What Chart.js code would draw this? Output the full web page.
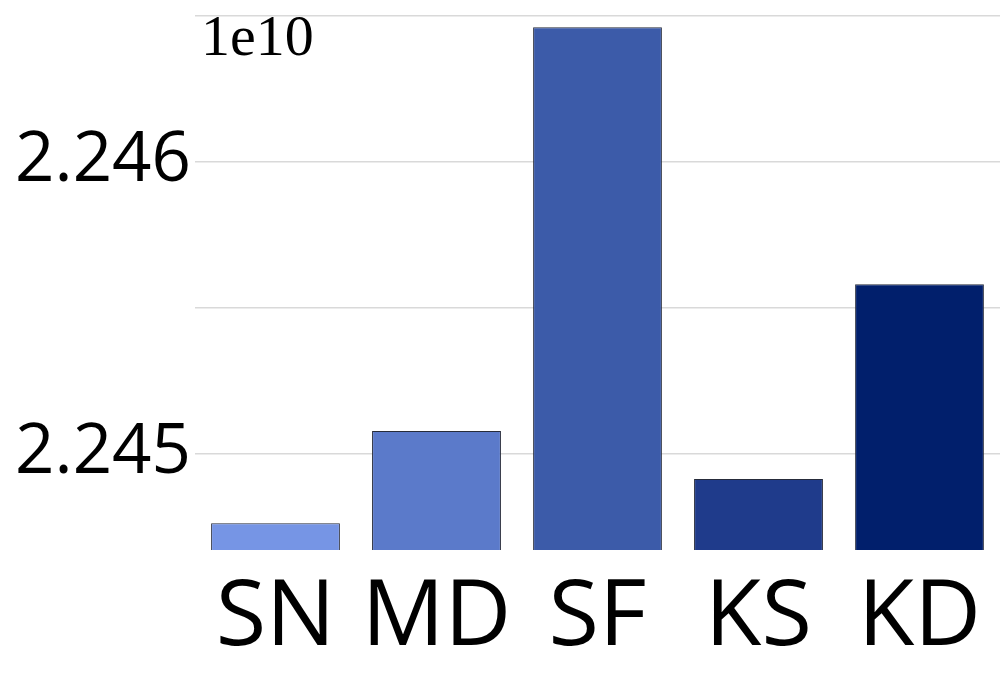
<!DOCTYPE html>
<html>
<head>
<meta charset="utf-8">
<script src="https://cdn.jsdelivr.net/npm/chart.js@4/dist/chart.umd.min.js"></script>
<style>
html,body{margin:0;padding:0;background:#fff;}
#wrap{width:1000px;height:700px;}
</style>
</head>
<body>
<div id="wrap"><canvas id="c" width="1000" height="700"></canvas></div>
<script>
const categories = ["SN", "MD", "SF", "KS", "KD"];
const values = [22447600000, 22450765000, 22464610000, 22449120000, 22455800000];
const barColors = ["#7695e5", "#5b7aca", "#3c5ba9", "#1f3b8b", "#011f6c"];
const gridValues = [22450000000, 22455000000, 22460000000, 22465000000];
const labeledTicks = [22450000000, 22460000000];
const tickLabels = ["2.245", "2.246"];
const yMin = 22446684000;
const yMax = 22465000000;
const exponentText = "1e10";

const exponentPlugin = {
  id: 'exponent',
  afterDraw(chart) {
    const ctx = chart.ctx;
    ctx.save();
    ctx.font = "58px 'Liberation Serif'";
    ctx.fillStyle = "#000";
    ctx.textBaseline = "alphabetic";
    ctx.textAlign = "left";
    ctx.fillText(exponentText, chart.chartArea.left + 6, 55);
    ctx.restore();
  }
};

new Chart(document.getElementById('c'), {
  type: 'bar',
  data: {
    labels: categories,
    datasets: [{
      data: values,
      backgroundColor: barColors,
      borderColor: "#262b3a",
      borderWidth: 1,
      categoryPercentage: 0.8,
      barPercentage: 1.0
    }]
  },
  options: {
    responsive: false,
    animation: false,
    layout: { padding: { top: 16, right: 0, left: 0, bottom: 0 } },
    plugins: { legend: { display: false }, tooltip: { enabled: false } },
    scales: {
      x: {
        grid: { display: false },
        border: { display: false },
        ticks: {
          color: "#000",
          font: { family: "'Open Sans'", size: 92 },
          padding: 6,
          maxRotation: 0
        },
        afterFit(scale) { scale.height = 150; }
      },
      y: {
        min: yMin,
        max: yMax,
        border: { display: false },
        grid: {
          color: "#d9d9d9",
          lineWidth: 1.5,
          drawTicks: false
        },
        afterBuildTicks(scale) {
          scale.ticks = gridValues.map(v => ({ value: v }));
        },
        ticks: {
          color: "#000",
          font: { family: "'Open Sans'", size: 69 },
          padding: 4,
          autoSkip: false,
          callback(v) {
            for (let i = 0; i < labeledTicks.length; i++) {
              if (Math.abs(v - labeledTicks[i]) < 10) return tickLabels[i];
            }
            return "";
          }
        },
        afterFit(scale) {
          scale.width = 195;
          scale.paddingTop = 0;
          scale.paddingBottom = 0;
        }
      }
    }
  },
  plugins: [exponentPlugin]
});
</script>
</body>
</html>
